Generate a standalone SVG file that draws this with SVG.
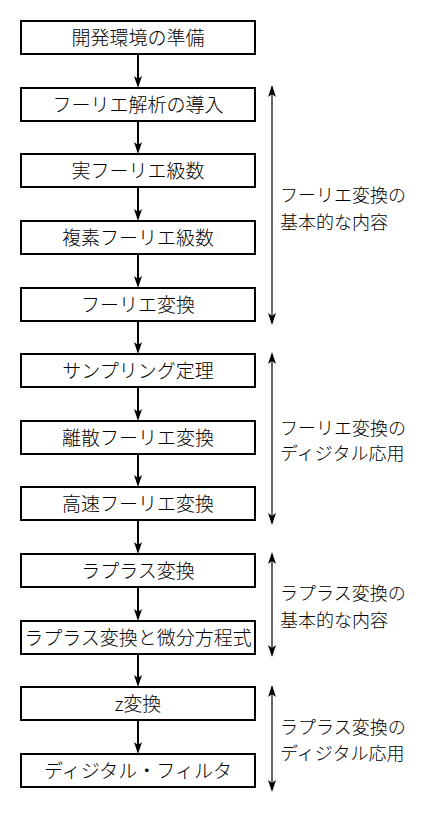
<svg xmlns="http://www.w3.org/2000/svg" width="427" height="813" viewBox="0 0 427 813">
<style>
.box{fill:#fff;stroke:#000;stroke-width:2}
.bt{font-family:"Noto Sans CJK JP","Noto Sans",sans-serif;font-size:19px;font-weight:300;text-anchor:middle;fill:#000}
.lt{font-family:"Noto Sans CJK JP","Noto Sans",sans-serif;font-size:18px;font-weight:300;fill:#000}
.flow{stroke:#000;stroke-width:2;fill:none}
.span{stroke:#000;stroke-width:1.2;fill:none}
</style>
<defs>
<marker id="ah" viewBox="0 0 12 8" refX="6" refY="4" markerWidth="12" markerHeight="8" markerUnits="userSpaceOnUse" orient="auto">
<path d="M0,0 L12,4 L0,8 L3,4 z" fill="#000"/>
</marker>
<marker id="ah2" viewBox="0 0 12 8" refX="10" refY="4" markerWidth="12" markerHeight="8" markerUnits="userSpaceOnUse" orient="auto-start-reverse">
<path d="M0,0 L12,4 L0,8 L3,4 z" fill="#000"/>
</marker>
</defs>
<rect width="427" height="813" fill="#fff"/>
<g id="connectors">
<line class="flow" x1="138" y1="54" x2="138" y2="82" marker-end="url(#ah)"/>
<line class="flow" x1="138" y1="121" x2="138" y2="148" marker-end="url(#ah)"/>
<line class="flow" x1="138" y1="187" x2="138" y2="215" marker-end="url(#ah)"/>
<line class="flow" x1="138" y1="254" x2="138" y2="282" marker-end="url(#ah)"/>
<line class="flow" x1="138" y1="321" x2="138" y2="348" marker-end="url(#ah)"/>
<line class="flow" x1="138" y1="387" x2="138" y2="415" marker-end="url(#ah)"/>
<line class="flow" x1="138" y1="454" x2="138" y2="481" marker-end="url(#ah)"/>
<line class="flow" x1="138" y1="520" x2="138" y2="548" marker-end="url(#ah)"/>
<line class="flow" x1="138" y1="587" x2="138" y2="615" marker-end="url(#ah)"/>
<line class="flow" x1="138" y1="654" x2="138" y2="681" marker-end="url(#ah)"/>
<line class="flow" x1="138" y1="720" x2="138" y2="748" marker-end="url(#ah)"/>
<line class="span" x1="272" y1="87" x2="272" y2="323" marker-start="url(#ah2)" marker-end="url(#ah2)"/>
<line class="span" x1="272" y1="354" x2="272" y2="523" marker-start="url(#ah2)" marker-end="url(#ah2)"/>
<line class="span" x1="272" y1="554" x2="272" y2="655" marker-start="url(#ah2)" marker-end="url(#ah2)"/>
<line class="span" x1="272" y1="687" x2="272" y2="790" marker-start="url(#ah2)" marker-end="url(#ah2)"/>
</g>
<g id="n1"><rect class="box" x="21" y="21" width="234" height="33"/><text class="bt" x="138" y="44.5">開発環境の準備</text></g>
<g id="n2"><rect class="box" x="21" y="88" width="234" height="33"/><text class="bt" x="138" y="111.5">フーリエ解析の導入</text></g>
<g id="n3"><rect class="box" x="21" y="154" width="234" height="33"/><text class="bt" x="138" y="177.5">実フーリエ級数</text></g>
<g id="n4"><rect class="box" x="21" y="221" width="234" height="33"/><text class="bt" x="138" y="244.5">複素フーリエ級数</text></g>
<g id="n5"><rect class="box" x="21" y="288" width="234" height="33"/><text class="bt" x="138" y="311.5">フーリエ変換</text></g>
<g id="n6"><rect class="box" x="21" y="354" width="234" height="33"/><text class="bt" x="138" y="377.5">サンプリング定理</text></g>
<g id="n7"><rect class="box" x="21" y="421" width="234" height="33"/><text class="bt" x="138" y="444.5">離散フーリエ変換</text></g>
<g id="n8"><rect class="box" x="21" y="487" width="234" height="33"/><text class="bt" x="138" y="510.5">高速フーリエ変換</text></g>
<g id="n9"><rect class="box" x="21" y="554" width="234" height="33"/><text class="bt" x="138" y="577.5">ラプラス変換</text></g>
<g id="n10"><rect class="box" x="21" y="621" width="234" height="33"/><text class="bt" x="138" y="644.5">ラプラス変換と微分方程式</text></g>
<g id="n11"><rect class="box" x="21" y="687" width="234" height="33"/><text class="bt" x="138" y="710.5">z変換</text></g>
<g id="n12"><rect class="box" x="21" y="754" width="234" height="33"/><text class="bt" x="138" y="777.5">ディジタル・フィルタ</text></g>
<g id="label1"><text class="lt" x="280" y="201.5">フーリエ変換の</text><text class="lt" x="280" y="228.5">基本的な内容</text></g>
<g id="label2"><text class="lt" x="280" y="434.5">フーリエ変換の</text><text class="lt" x="280" y="459.5">ディジタル応用</text></g>
<g id="label3"><text class="lt" x="280" y="599.5">ラプラス変換の</text><text class="lt" x="280" y="626.5">基本的な内容</text></g>
<g id="label4"><text class="lt" x="280" y="733.5">ラプラス変換の</text><text class="lt" x="280" y="759.5">ディジタル応用</text></g>
</svg>
